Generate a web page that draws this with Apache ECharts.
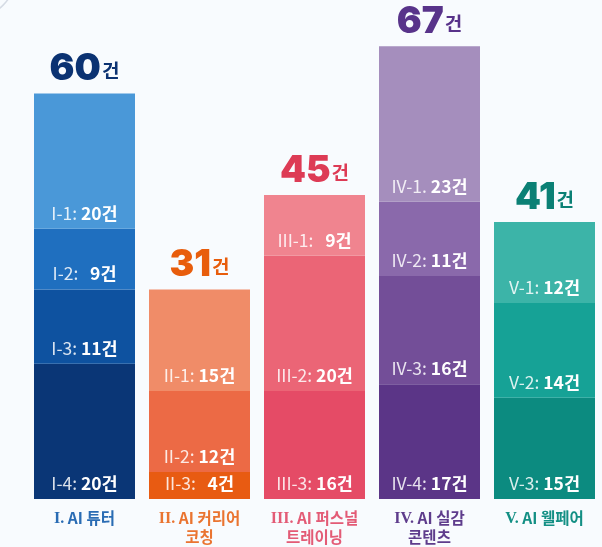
<!DOCTYPE html>
<html>
<head>
<meta charset="utf-8">
<script src="https://cdn.jsdelivr.net/npm/echarts@6/dist/echarts.min.js"></script>
<style>
  html, body { margin: 0; padding: 0; background: #f8fbfe; }
  #chart { width: 602px; height: 547px; }
</style>
</head>
<body>
<div id="chart"></div>
<script>
// categories (bottom labels)
var categories = ['I. AI 튜터', 'II. AI 커리어\n코칭', 'III. AI 퍼스널\n트레이닝', 'IV. AI 실감\n콘텐츠', 'V. AI 웰페어'];
// segment codes per category, top to bottom
var segCodes = [
  ['I-1', 'I-2', 'I-3', 'I-4'],
  ['II-1', 'II-2', 'II-3'],
  ['III-1', 'III-2', 'III-3'],
  ['IV-1', 'IV-2', 'IV-3', 'IV-4'],
  ['V-1', 'V-2', 'V-3']
];
// separators as printed (IV-1 uses a period)
var segSeps = [
  [':', ':', ':', ':'],
  [':', ':', ':'],
  [':', ':', ':'],
  ['.', ':', ':', ':'],
  [':', ':', ':']
];
// segment values per category, top to bottom
var segValues = [
  [20, 9, 11, 20],
  [15, 12, 4],
  [9, 20, 16],
  [23, 11, 16, 17],
  [12, 14, 15]
];
// printed totals
var totals = [60, 31, 45, 67, 41];

// colours (top to bottom) per category
var segColors = [
  ['#4a98d8', '#1f6fbf', '#0e52a0', '#0a3676'],
  ['#f08c68', '#ec6a45', '#e85b12'],
  ['#f0848f', '#eb6576', '#e54b66'],
  ['#a58ebd', '#8a69ab', '#734e98', '#5b3587'],
  ['#3cb4a8', '#16a296', '#0c8b80']
];
var totalColors = ['#0b3272', '#e85d0c', '#dd3b55', '#58338a', '#0b8075'];
var catColors = ['#2a6cb4', '#ea7430', '#e35b76', '#5e3c8c', '#138f84'];

var FONT = '"Noto Sans CJK KR", "Noto Sans", sans-serif';
var NUM_FONT = 'Inter, "Noto Sans", sans-serif';

var chart = echarts.init(document.getElementById('chart'));

// build stacked layers from the bottom up
var maxLayers = 4;
var series = [];
for (var layer = 0; layer < maxLayers; layer++) {
  var data = [];
  for (var c = 0; c < categories.length; c++) {
    var n = segValues[c].length;
    var idx = n - 1 - layer; // index from top
    if (idx < 0) { data.push('-'); continue; }
    var v = segValues[c][idx];
    var pad = v < 10 ? '   ' : ' ';
    data.push({
      value: v,
      itemStyle: { color: segColors[c][idx] },
      label: {
        formatter: '{a|' + segCodes[c][idx] + segSeps[c][idx] + pad + '}{b|' + v + '건}'
      }
    });
  }
  series.push({
    type: 'bar',
    stack: 'all',
    barWidth: 101,
    data: data,
    label: {
      show: true,
      position: 'insideBottom',
      distance: 7,
      rich: {
        a: { color: 'rgba(255,255,255,0.85)', fontSize: 17.5, fontFamily: FONT },
        b: { color: '#ffffff', fontSize: 17.5, fontWeight: 'bold', fontFamily: FONT }
      }
    }
  });
}

series.push({
  type: 'scatter',
  symbolSize: 0,
  z: 10,
  itemStyle: { opacity: 1 },
  data: totals.map(function (t, i) {
    return {
      value: t,
      label: {
        formatter: '{n|' + t + '}{u|건}',
        rich: {
          n: { fontSize: 37, fontWeight: 900, color: totalColors[i], fontFamily: NUM_FONT },
          u: { fontSize: 19, fontWeight: 'bold', color: totalColors[i], fontFamily: FONT, padding: [4, 0, 0, 1] }
        }
      }
    };
  }),
  label: { show: true, position: 'top', distance: 6 }
});

chart.setOption({
  backgroundColor: '#f8fbfe',
  animation: false,
  graphic: [{
    type: 'circle',
    shape: { cx: -28, cy: -26, r: 44 },
    style: { fill: 'none', stroke: '#d5dbe4', lineWidth: 1.5 }
  }],
  grid: { left: 27, right: -2, top: 26, bottom: 45 },
  xAxis: {
    type: 'category',
    data: categories.map(function (name, i) {
      return { value: name, textStyle: { color: catColors[i] } };
    }),
    axisLine: { show: false },
    axisTick: { show: false },
    axisLabel: {
      margin: 10,
      fontSize: 15.5,
      fontWeight: 'bold',
      lineHeight: 19,
      fontFamily: FONT,
      interval: 0,
      formatter: function (val) {
        var dot = val.indexOf('.');
        return '{r|' + val.slice(0, dot + 1) + '}' + val.slice(dot + 1);
      },
      rich: {
        r: { fontFamily: '"Liberation Serif", serif', fontWeight: 'bold', fontSize: 16, lineHeight: 19 }
      }
    }
  },
  yAxis: {
    type: 'value',
    min: 0,
    max: 70,
    show: false,
    splitLine: { show: false }
  },
  series: series
});
</script>
</body>
</html>
